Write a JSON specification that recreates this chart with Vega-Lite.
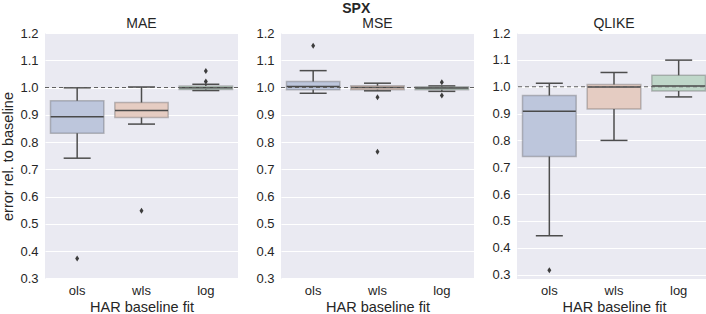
{
  "$schema": "https://vega.github.io/schema/vega-lite/v6.json",
  "padding": {"left": 0, "top": 2, "right": 0, "bottom": 0},
  "background": "white",
  "title": {"text": "SPX", "fontSize": 14, "fontWeight": "bold", "color": "#262626", "anchor": "middle", "offset": 1, "font": "Liberation Sans"},
  "spacing": 16,
  "config": {
    "font": "Liberation Sans",
    "view": {"fill": "#EAEAF2", "stroke": null},
    "title": {"fontSize": 14, "fontWeight": "normal", "color": "#262626", "offset": -4},
    "axis": {"labelFontSize": 13, "labelColor": "#262626", "titleFontSize": 14.5, "titleColor": "#262626", "titleFontWeight": "normal", "ticks": false, "domain": false, "labelOverlap": false},
    "axisX": {"labelAngle": 0, "grid": false, "labelPadding": 5, "titlePadding": 3},
    "axisY": {"grid": true, "gridColor": "#FFFFFF", "gridWidth": 1.1, "labelPadding": 7, "titlePadding": 4}
  },
  "datasets": {
    "boxes": [
      {"metric": "MAE", "fit": "ols", "lo": 0.741, "q1": 0.832, "med": 0.893, "q3": 0.952, "hi": 0.999},
      {"metric": "MAE", "fit": "wls", "lo": 0.866, "q1": 0.890, "med": 0.916, "q3": 0.945, "hi": 1.002},
      {"metric": "MAE", "fit": "log", "lo": 0.989, "q1": 0.993, "med": 0.999, "q3": 1.006, "hi": 1.012},
      {"metric": "MSE", "fit": "ols", "lo": 0.979, "q1": 0.992, "med": 1.004, "q3": 1.022, "hi": 1.062},
      {"metric": "MSE", "fit": "wls", "lo": 0.988, "q1": 0.992, "med": 1.000, "q3": 1.007, "hi": 1.016},
      {"metric": "MSE", "fit": "log", "lo": 0.986, "q1": 0.992, "med": 0.998, "q3": 1.003, "hi": 1.006},
      {"metric": "QLIKE", "fit": "ols", "lo": 0.445, "q1": 0.740, "med": 0.909, "q3": 0.967, "hi": 1.013},
      {"metric": "QLIKE", "fit": "wls", "lo": 0.800, "q1": 0.917, "med": 0.999, "q3": 1.008, "hi": 1.053},
      {"metric": "QLIKE", "fit": "log", "lo": 0.962, "q1": 0.984, "med": 1.003, "q3": 1.043, "hi": 1.099}
    ],
    "outliers": [
      {"metric": "MAE", "fit": "ols", "value": 0.373},
      {"metric": "MAE", "fit": "wls", "value": 0.548},
      {"metric": "MAE", "fit": "log", "value": 1.061},
      {"metric": "MAE", "fit": "log", "value": 1.022},
      {"metric": "MSE", "fit": "ols", "value": 1.153},
      {"metric": "MSE", "fit": "wls", "value": 0.964},
      {"metric": "MSE", "fit": "wls", "value": 0.765},
      {"metric": "MSE", "fit": "log", "value": 1.019},
      {"metric": "MSE", "fit": "log", "value": 0.971},
      {"metric": "QLIKE", "fit": "ols", "value": 0.317}
    ],
    "baseline": [{"ref": 1}]
  },
  "hconcat": [
    {
      "width": 193, "height": 246,
      "title": "MAE",
      "layer": [
        {"data": {"name": "boxes"}, "transform": [{"filter": "datum.metric === 'MAE'"}],
         "mark": {"type": "rule", "color": "#4d4d4d", "strokeWidth": 1.5},
         "encoding": {"x": {"field": "fit", "type": "nominal", "scale": {"domain": ["ols", "wls", "log"], "paddingInner": 0, "paddingOuter": 0}, "title": "HAR baseline fit"},
           "y": {"field": "lo", "type": "quantitative", "title": "error rel. to baseline", "scale": {"domain": [0.298, 1.2], "nice": false, "zero": false}, "axis": {"values": [0.3, 0.4, 0.5, 0.6, 0.7, 0.8, 0.9, 1.0, 1.1, 1.2], "format": ".1f"}}, "y2": {"field": "hi"}}},
        {"data": {"name": "boxes"}, "transform": [{"filter": "datum.metric === 'MAE'"}],
         "mark": {"type": "tick", "color": "#4d4d4d", "thickness": 1.5, "opacity": 1},
         "encoding": {"x": {"field": "fit", "type": "nominal", "scale": {"domain": ["ols", "wls", "log"], "paddingInner": 0, "paddingOuter": 0}, "title": "HAR baseline fit"},
           "y": {"field": "lo", "type": "quantitative", "title": "error rel. to baseline", "scale": {"domain": [0.298, 1.2], "nice": false, "zero": false}, "axis": {"values": [0.3, 0.4, 0.5, 0.6, 0.7, 0.8, 0.9, 1.0, 1.1, 1.2], "format": ".1f"}}, "size": {"value": 27}}},
        {"data": {"name": "boxes"}, "transform": [{"filter": "datum.metric === 'MAE'"}],
         "mark": {"type": "tick", "color": "#4d4d4d", "thickness": 1.5, "opacity": 1},
         "encoding": {"x": {"field": "fit", "type": "nominal", "scale": {"domain": ["ols", "wls", "log"], "paddingInner": 0, "paddingOuter": 0}, "title": "HAR baseline fit"},
           "y": {"field": "hi", "type": "quantitative", "title": "error rel. to baseline", "scale": {"domain": [0.298, 1.2], "nice": false, "zero": false}, "axis": {"values": [0.3, 0.4, 0.5, 0.6, 0.7, 0.8, 0.9, 1.0, 1.1, 1.2], "format": ".1f"}}, "size": {"value": 27}}},
        {"data": {"name": "boxes"}, "transform": [{"filter": "datum.metric === 'MAE'"}],
         "mark": {"type": "bar", "width": {"band": 0.83}, "stroke": "#555555", "strokeOpacity": 0.35, "strokeWidth": 1.5, "opacity": 1},
         "encoding": {"x": {"field": "fit", "type": "nominal", "scale": {"domain": ["ols", "wls", "log"], "paddingInner": 0, "paddingOuter": 0}, "title": "HAR baseline fit"},
           "y": {"field": "q1", "type": "quantitative", "title": "error rel. to baseline", "scale": {"domain": [0.298, 1.2], "nice": false, "zero": false}, "axis": {"values": [0.3, 0.4, 0.5, 0.6, 0.7, 0.8, 0.9, 1.0, 1.1, 1.2], "format": ".1f"}}, "y2": {"field": "q3"},
           "color": {"field": "fit", "type": "nominal", "scale": {"domain": ["ols", "wls", "log"], "range": ["#BDC6DC", "#E5CCC2", "#BFD7C9"]}, "legend": null}}},
        {"data": {"name": "boxes"}, "transform": [{"filter": "datum.metric === 'MAE'"}],
         "mark": {"type": "tick", "color": "#4a4a4a", "thickness": 1.5, "opacity": 1},
         "encoding": {"x": {"field": "fit", "type": "nominal", "scale": {"domain": ["ols", "wls", "log"], "paddingInner": 0, "paddingOuter": 0}, "title": "HAR baseline fit"},
           "y": {"field": "med", "type": "quantitative", "title": "error rel. to baseline", "scale": {"domain": [0.298, 1.2], "nice": false, "zero": false}, "axis": {"values": [0.3, 0.4, 0.5, 0.6, 0.7, 0.8, 0.9, 1.0, 1.1, 1.2], "format": ".1f"}}, "size": {"value": 53}}},
        {"data": {"name": "outliers"}, "transform": [{"filter": "datum.metric === 'MAE'"}],
         "mark": {"type": "point", "shape": "M0,-1L0.66,0L0,1L-0.66,0Z", "filled": true, "color": "#3d3d3d", "size": 36, "opacity": 1},
         "encoding": {"x": {"field": "fit", "type": "nominal", "scale": {"domain": ["ols", "wls", "log"], "paddingInner": 0, "paddingOuter": 0}, "title": "HAR baseline fit"},
           "y": {"field": "value", "type": "quantitative", "title": "error rel. to baseline", "scale": {"domain": [0.298, 1.2], "nice": false, "zero": false}, "axis": {"values": [0.3, 0.4, 0.5, 0.6, 0.7, 0.8, 0.9, 1.0, 1.1, 1.2], "format": ".1f"}}}},
        {"data": {"name": "baseline"},
         "mark": {"type": "rule", "color": "#606060", "strokeDash": [4, 3], "strokeWidth": 1.1},
         "encoding": {"y": {"field": "ref", "type": "quantitative", "title": "error rel. to baseline", "scale": {"domain": [0.298, 1.2], "nice": false, "zero": false}, "axis": {"values": [0.3, 0.4, 0.5, 0.6, 0.7, 0.8, 0.9, 1.0, 1.1, 1.2], "format": ".1f"}}}}
      ]
    },
    {
      "width": 193, "height": 246,
      "title": "MSE",
      "layer": [
        {"data": {"name": "boxes"}, "transform": [{"filter": "datum.metric === 'MSE'"}],
         "mark": {"type": "rule", "color": "#4d4d4d", "strokeWidth": 1.5},
         "encoding": {"x": {"field": "fit", "type": "nominal", "scale": {"domain": ["ols", "wls", "log"], "paddingInner": 0, "paddingOuter": 0}, "title": "HAR baseline fit"},
           "y": {"field": "lo", "type": "quantitative", "title": null, "scale": {"domain": [0.298, 1.2], "nice": false, "zero": false}, "axis": {"values": [0.3, 0.4, 0.5, 0.6, 0.7, 0.8, 0.9, 1.0, 1.1, 1.2], "format": ".1f"}}, "y2": {"field": "hi"}}},
        {"data": {"name": "boxes"}, "transform": [{"filter": "datum.metric === 'MSE'"}],
         "mark": {"type": "tick", "color": "#4d4d4d", "thickness": 1.5, "opacity": 1},
         "encoding": {"x": {"field": "fit", "type": "nominal", "scale": {"domain": ["ols", "wls", "log"], "paddingInner": 0, "paddingOuter": 0}, "title": "HAR baseline fit"},
           "y": {"field": "lo", "type": "quantitative", "title": null, "scale": {"domain": [0.298, 1.2], "nice": false, "zero": false}, "axis": {"values": [0.3, 0.4, 0.5, 0.6, 0.7, 0.8, 0.9, 1.0, 1.1, 1.2], "format": ".1f"}}, "size": {"value": 27}}},
        {"data": {"name": "boxes"}, "transform": [{"filter": "datum.metric === 'MSE'"}],
         "mark": {"type": "tick", "color": "#4d4d4d", "thickness": 1.5, "opacity": 1},
         "encoding": {"x": {"field": "fit", "type": "nominal", "scale": {"domain": ["ols", "wls", "log"], "paddingInner": 0, "paddingOuter": 0}, "title": "HAR baseline fit"},
           "y": {"field": "hi", "type": "quantitative", "title": null, "scale": {"domain": [0.298, 1.2], "nice": false, "zero": false}, "axis": {"values": [0.3, 0.4, 0.5, 0.6, 0.7, 0.8, 0.9, 1.0, 1.1, 1.2], "format": ".1f"}}, "size": {"value": 27}}},
        {"data": {"name": "boxes"}, "transform": [{"filter": "datum.metric === 'MSE'"}],
         "mark": {"type": "bar", "width": {"band": 0.83}, "stroke": "#555555", "strokeOpacity": 0.35, "strokeWidth": 1.5, "opacity": 1},
         "encoding": {"x": {"field": "fit", "type": "nominal", "scale": {"domain": ["ols", "wls", "log"], "paddingInner": 0, "paddingOuter": 0}, "title": "HAR baseline fit"},
           "y": {"field": "q1", "type": "quantitative", "title": null, "scale": {"domain": [0.298, 1.2], "nice": false, "zero": false}, "axis": {"values": [0.3, 0.4, 0.5, 0.6, 0.7, 0.8, 0.9, 1.0, 1.1, 1.2], "format": ".1f"}}, "y2": {"field": "q3"},
           "color": {"field": "fit", "type": "nominal", "scale": {"domain": ["ols", "wls", "log"], "range": ["#BDC6DC", "#E5CCC2", "#BFD7C9"]}, "legend": null}}},
        {"data": {"name": "boxes"}, "transform": [{"filter": "datum.metric === 'MSE'"}],
         "mark": {"type": "tick", "color": "#4a4a4a", "thickness": 1.5, "opacity": 1},
         "encoding": {"x": {"field": "fit", "type": "nominal", "scale": {"domain": ["ols", "wls", "log"], "paddingInner": 0, "paddingOuter": 0}, "title": "HAR baseline fit"},
           "y": {"field": "med", "type": "quantitative", "title": null, "scale": {"domain": [0.298, 1.2], "nice": false, "zero": false}, "axis": {"values": [0.3, 0.4, 0.5, 0.6, 0.7, 0.8, 0.9, 1.0, 1.1, 1.2], "format": ".1f"}}, "size": {"value": 53}}},
        {"data": {"name": "outliers"}, "transform": [{"filter": "datum.metric === 'MSE'"}],
         "mark": {"type": "point", "shape": "M0,-1L0.66,0L0,1L-0.66,0Z", "filled": true, "color": "#3d3d3d", "size": 36, "opacity": 1},
         "encoding": {"x": {"field": "fit", "type": "nominal", "scale": {"domain": ["ols", "wls", "log"], "paddingInner": 0, "paddingOuter": 0}, "title": "HAR baseline fit"},
           "y": {"field": "value", "type": "quantitative", "title": null, "scale": {"domain": [0.298, 1.2], "nice": false, "zero": false}, "axis": {"values": [0.3, 0.4, 0.5, 0.6, 0.7, 0.8, 0.9, 1.0, 1.1, 1.2], "format": ".1f"}}}},
        {"data": {"name": "baseline"},
         "mark": {"type": "rule", "color": "#606060", "strokeDash": [4, 3], "strokeWidth": 1.1},
         "encoding": {"y": {"field": "ref", "type": "quantitative", "title": null, "scale": {"domain": [0.298, 1.2], "nice": false, "zero": false}, "axis": {"values": [0.3, 0.4, 0.5, 0.6, 0.7, 0.8, 0.9, 1.0, 1.1, 1.2], "format": ".1f"}}}}
      ]
    },
    {
      "width": 194, "height": 246,
      "title": "QLIKE",
      "layer": [
        {"data": {"name": "boxes"}, "transform": [{"filter": "datum.metric === 'QLIKE'"}],
         "mark": {"type": "rule", "color": "#4d4d4d", "strokeWidth": 1.5},
         "encoding": {"x": {"field": "fit", "type": "nominal", "scale": {"domain": ["ols", "wls", "log"], "paddingInner": 0, "paddingOuter": 0}, "title": "HAR baseline fit"},
           "y": {"field": "lo", "type": "quantitative", "title": null, "scale": {"domain": [0.284, 1.2], "nice": false, "zero": false}, "axis": {"values": [0.3, 0.4, 0.5, 0.6, 0.7, 0.8, 0.9, 1.0, 1.1, 1.2], "format": ".1f"}}, "y2": {"field": "hi"}}},
        {"data": {"name": "boxes"}, "transform": [{"filter": "datum.metric === 'QLIKE'"}],
         "mark": {"type": "tick", "color": "#4d4d4d", "thickness": 1.5, "opacity": 1},
         "encoding": {"x": {"field": "fit", "type": "nominal", "scale": {"domain": ["ols", "wls", "log"], "paddingInner": 0, "paddingOuter": 0}, "title": "HAR baseline fit"},
           "y": {"field": "lo", "type": "quantitative", "title": null, "scale": {"domain": [0.284, 1.2], "nice": false, "zero": false}, "axis": {"values": [0.3, 0.4, 0.5, 0.6, 0.7, 0.8, 0.9, 1.0, 1.1, 1.2], "format": ".1f"}}, "size": {"value": 27}}},
        {"data": {"name": "boxes"}, "transform": [{"filter": "datum.metric === 'QLIKE'"}],
         "mark": {"type": "tick", "color": "#4d4d4d", "thickness": 1.5, "opacity": 1},
         "encoding": {"x": {"field": "fit", "type": "nominal", "scale": {"domain": ["ols", "wls", "log"], "paddingInner": 0, "paddingOuter": 0}, "title": "HAR baseline fit"},
           "y": {"field": "hi", "type": "quantitative", "title": null, "scale": {"domain": [0.284, 1.2], "nice": false, "zero": false}, "axis": {"values": [0.3, 0.4, 0.5, 0.6, 0.7, 0.8, 0.9, 1.0, 1.1, 1.2], "format": ".1f"}}, "size": {"value": 27}}},
        {"data": {"name": "boxes"}, "transform": [{"filter": "datum.metric === 'QLIKE'"}],
         "mark": {"type": "bar", "width": {"band": 0.83}, "stroke": "#555555", "strokeOpacity": 0.35, "strokeWidth": 1.5, "opacity": 1},
         "encoding": {"x": {"field": "fit", "type": "nominal", "scale": {"domain": ["ols", "wls", "log"], "paddingInner": 0, "paddingOuter": 0}, "title": "HAR baseline fit"},
           "y": {"field": "q1", "type": "quantitative", "title": null, "scale": {"domain": [0.284, 1.2], "nice": false, "zero": false}, "axis": {"values": [0.3, 0.4, 0.5, 0.6, 0.7, 0.8, 0.9, 1.0, 1.1, 1.2], "format": ".1f"}}, "y2": {"field": "q3"},
           "color": {"field": "fit", "type": "nominal", "scale": {"domain": ["ols", "wls", "log"], "range": ["#BDC6DC", "#E5CCC2", "#BFD7C9"]}, "legend": null}}},
        {"data": {"name": "boxes"}, "transform": [{"filter": "datum.metric === 'QLIKE'"}],
         "mark": {"type": "tick", "color": "#4a4a4a", "thickness": 1.5, "opacity": 1},
         "encoding": {"x": {"field": "fit", "type": "nominal", "scale": {"domain": ["ols", "wls", "log"], "paddingInner": 0, "paddingOuter": 0}, "title": "HAR baseline fit"},
           "y": {"field": "med", "type": "quantitative", "title": null, "scale": {"domain": [0.284, 1.2], "nice": false, "zero": false}, "axis": {"values": [0.3, 0.4, 0.5, 0.6, 0.7, 0.8, 0.9, 1.0, 1.1, 1.2], "format": ".1f"}}, "size": {"value": 53}}},
        {"data": {"name": "outliers"}, "transform": [{"filter": "datum.metric === 'QLIKE'"}],
         "mark": {"type": "point", "shape": "M0,-1L0.66,0L0,1L-0.66,0Z", "filled": true, "color": "#3d3d3d", "size": 36, "opacity": 1},
         "encoding": {"x": {"field": "fit", "type": "nominal", "scale": {"domain": ["ols", "wls", "log"], "paddingInner": 0, "paddingOuter": 0}, "title": "HAR baseline fit"},
           "y": {"field": "value", "type": "quantitative", "title": null, "scale": {"domain": [0.284, 1.2], "nice": false, "zero": false}, "axis": {"values": [0.3, 0.4, 0.5, 0.6, 0.7, 0.8, 0.9, 1.0, 1.1, 1.2], "format": ".1f"}}}},
        {"data": {"name": "baseline"},
         "mark": {"type": "rule", "color": "#606060", "strokeDash": [4, 3], "strokeWidth": 1.1},
         "encoding": {"y": {"field": "ref", "type": "quantitative", "title": null, "scale": {"domain": [0.284, 1.2], "nice": false, "zero": false}, "axis": {"values": [0.3, 0.4, 0.5, 0.6, 0.7, 0.8, 0.9, 1.0, 1.1, 1.2], "format": ".1f"}}}}
      ]
    }
  ]
}
